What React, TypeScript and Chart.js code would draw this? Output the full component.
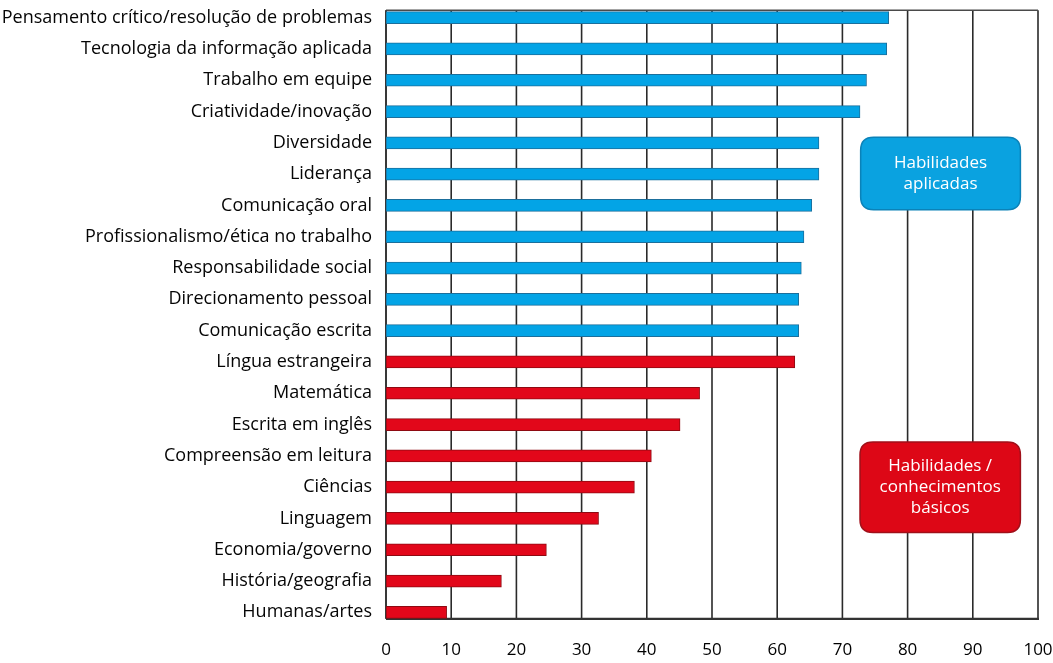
import React, { useEffect, useRef } from "react";
import { Chart, registerables } from "chart.js";

Chart.register(...registerables);

const categories = [
  "Pensamento crítico/resolução de problemas",
  "Tecnologia da informação aplicada",
  "Trabalho em equipe",
  "Criatividade/inovação",
  "Diversidade",
  "Liderança",
  "Comunicação oral",
  "Profissionalismo/ética no trabalho",
  "Responsabilidade social",
  "Direcionamento pessoal",
  "Comunicação escrita",
  "Língua estrangeira",
  "Matemática",
  "Escrita em inglês",
  "Compreensão em leitura",
  "Ciências",
  "Linguagem",
  "Economia/governo",
  "História/geografia",
  "Humanas/artes",
];

const values = [
  77.1, 76.8, 73.7, 72.7, 66.4, 66.4, 65.3, 64.1, 63.7, 63.3, 63.3,
  62.7, 48.1, 45.1, 40.7, 38.1, 32.6, 24.6, 17.7, 9.3,
];

// "A" = Habilidades aplicadas, "B" = Habilidades / conhecimentos básicos
const groups = [
  "A", "A", "A", "A", "A", "A", "A", "A", "A", "A", "A",
  "B", "B", "B", "B", "B", "B", "B", "B", "B",
];

const xTickValues = [0, 10, 20, 30, 40, 50, 60, 70, 80, 90, 100];

const groupLabels = {
  A: ["Habilidades", "aplicadas"],
  B: ["Habilidades /", "conhecimentos", "básicos"],
};

const FONT = "'Open Sans', 'Noto Sans', sans-serif";
const FILL = { A: "#03a4e6", B: "#e2071a" };
const EDGE = { A: "#1b6f9c", B: "#8e0a12" };
const BOX_FILL = { A: "#0aa2e0", B: "#dd0716" };
const BOX_EDGE = { A: "#0b82b8", B: "#a0101a" };

// box placement in data units: x range and category-index range
const boxes = [
  { g: "A", x0: 72.8, x1: 97.3, y0: 3.82, y1: 6.14 },
  { g: "B", x0: 72.7, x1: 97.3, y0: 13.56, y1: 16.45 },
];

function roundRect(ctx, x, y, w, h, r) {
  ctx.beginPath();
  ctx.moveTo(x + r, y);
  ctx.lineTo(x + w - r, y);
  ctx.quadraticCurveTo(x + w, y, x + w, y + r);
  ctx.lineTo(x + w, y + h - r);
  ctx.quadraticCurveTo(x + w, y + h, x + w - r, y + h);
  ctx.lineTo(x + r, y + h);
  ctx.quadraticCurveTo(x, y + h, x, y + h - r);
  ctx.lineTo(x, y + r);
  ctx.quadraticCurveTo(x, y, x + r, y);
  ctx.closePath();
}

function frameBounds(chart) {
  const meta = chart.getDatasetMeta(0);
  const first = meta.data[0].getProps(["y", "height"], true);
  const last = meta.data[meta.data.length - 1].getProps(["y", "height"], true);
  return {
    top: first.y - first.height / 2 - 1.5,
    bottom: last.y + last.height / 2 + 0.5,
  };
}

const framePlugin = {
  id: "frame",
  beforeDatasetsDraw(chart) {
    const { ctx } = chart;
    const xs = chart.scales.x;
    const { top, bottom } = frameBounds(chart);
    ctx.save();
    ctx.strokeStyle = "#2a2a2a";
    ctx.lineWidth = 1.6;
    xs.ticks.forEach((t) => {
      const px = xs.getPixelForValue(t.value);
      ctx.beginPath();
      ctx.moveTo(px, top);
      ctx.lineTo(px, bottom);
      ctx.stroke();
    });
    ctx.strokeStyle = "#4a4a4a";
    ctx.lineWidth = 1.5;
    ctx.beginPath();
    ctx.moveTo(xs.left, top);
    ctx.lineTo(xs.right, top);
    ctx.stroke();
    ctx.strokeStyle = "#333";
    ctx.lineWidth = 2.2;
    ctx.beginPath();
    ctx.moveTo(xs.left, bottom);
    ctx.lineTo(xs.right + 1, bottom);
    ctx.stroke();
    ctx.restore();
  },
  afterDatasetsDraw(chart) {
    const { ctx } = chart;
    const xs = chart.scales.x;
    const ys = chart.scales.y;
    ctx.save();
    boxes.forEach((b) => {
      const x0 = xs.getPixelForValue(b.x0);
      const x1 = xs.getPixelForValue(b.x1);
      const y0 = ys.getPixelForValue(b.y0);
      const y1 = ys.getPixelForValue(b.y1);
      roundRect(ctx, x0, y0, x1 - x0, y1 - y0, 13);
      ctx.fillStyle = BOX_FILL[b.g];
      ctx.fill();
      ctx.strokeStyle = BOX_EDGE[b.g];
      ctx.lineWidth = 1.5;
      ctx.stroke();
      const lines = groupLabels[b.g];
      const lh = 21;
      const cy = (y0 + y1) / 2;
      ctx.fillStyle = "#ffffff";
      ctx.font = `17px ${FONT}`;
      ctx.textAlign = "center";
      ctx.textBaseline = "middle";
      lines.forEach((s, i) => {
        ctx.fillText(s, (x0 + x1) / 2, cy + (i - (lines.length - 1) / 2) * lh);
      });
    });
    ctx.restore();
  },
};

const leftAxisPlugin = {
  id: "leftAxis",
  beforeDatasetsDraw(chart) {
    const { ctx } = chart;
    const xs = chart.scales.x;
    const { top, bottom } = frameBounds(chart);
    ctx.save();
    ctx.strokeStyle = "#333";
    ctx.lineWidth = 1.6;
    ctx.beginPath();
    ctx.moveTo(xs.left, top);
    ctx.lineTo(xs.left, bottom);
    ctx.stroke();
    ctx.restore();
  },
};

export default function App() {
  const ref = useRef(null);
  useEffect(() => {
    const chart = new Chart(ref.current, {
      type: "bar",
      data: {
        labels: categories,
        datasets: [
          {
            data: values,
            backgroundColor: groups.map((g) => FILL[g]),
            borderColor: groups.map((g) => EDGE[g]),
            borderWidth: 1,
            borderSkipped: false,
            barThickness: 12,
          },
        ],
      },
      options: {
        indexAxis: "y",
        responsive: false,
        animation: false,
        layout: { padding: { top: 2, right: 15, left: 0, bottom: 0 } },
        plugins: { legend: { display: false }, tooltip: { enabled: false } },
        scales: {
          x: {
            min: 0,
            max: 100,
            afterFit: (s) => {
              s.height = 35;
              s.paddingLeft = 0;
              s.paddingRight = 0;
            },
            afterBuildTicks: (s) => {
              s.ticks = xTickValues.map((v) => ({ value: v }));
            },
            grid: { display: false, drawTicks: false },
            border: { display: false },
            ticks: {
              padding: 12,
              color: "#000",
              font: { family: FONT, size: 17 },
            },
          },
          y: {
            afterFit: (s) => {
              s.width = 386;
              s.paddingTop = 0;
              s.paddingBottom = 0;
            },
            grid: { display: false, drawTicks: false },
            border: { display: false },
            ticks: {
              padding: 14,
              color: "#050505",
              autoSkip: false,
              font: { family: FONT, size: 18 },
            },
          },
        },
      },
      plugins: [framePlugin, leftAxisPlugin],
    });
    return () => chart.destroy();
  }, []);
  return (
    <div style={{ position: "absolute", left: 0, top: 0, width: 1053, height: 663, background: "#fff" }}>
      <canvas ref={ref} width={1053} height={663} style={{ display: "block" }} />
    </div>
  );
}
